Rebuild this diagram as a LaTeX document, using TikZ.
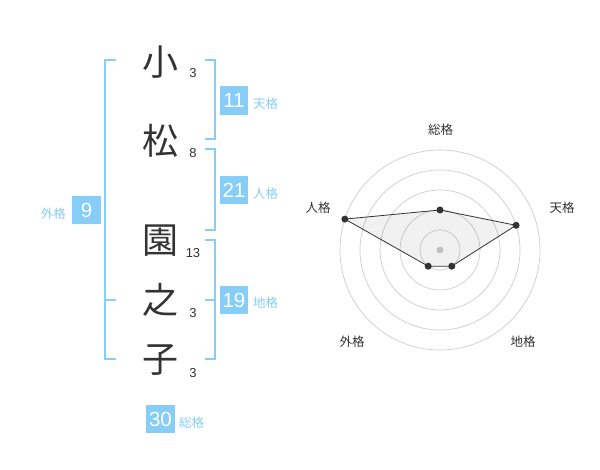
\documentclass[tikz,border=0pt]{standalone}
\usepackage{fontspec}
\setmainfont{Liberation Sans}
\newfontfamily\jp{Noto Sans CJK JP}
\definecolor{sky}{HTML}{86CDF8}
\definecolor{ink}{HTML}{333333}
\definecolor{ring}{HTML}{CCCCCC}
\begin{document}
\begin{tikzpicture}[x=1pt,y=-1pt,
  kanji/.style={font=\jp\fontsize{36}{36}\selectfont, text=ink, inner sep=0pt},
  stroke/.style={font=\fontsize{13}{13}\selectfont, text=ink, inner sep=0pt},
  numbox/.style={fill=sky, text=white, font=\fontsize{20.5}{20.5}\selectfont, minimum width=28.5pt, minimum height=28.5pt, inner sep=0pt},
  kaku/.style={font=\jp\fontsize{12.5}{12.5}\selectfont, text=sky, inner sep=0pt},
  bracket/.style={draw=sky, line width=2pt},
  radlab/.style={font=\jp\fontsize{12.5}{12.5}\selectfont, text=ink, inner sep=0pt},
  pt/.style={circle, fill=ink, inner sep=0pt, minimum size=7pt},
]
\useasboundingbox (0,0) rectangle (600,470);

% name characters
\node[kanji] (c1) at (160,62) {小};
\node[kanji] (c2) at (160,141) {松};
\node[kanji] (c3) at (160,241) {園};
\node[kanji] (c4) at (160,300) {之};
\node[kanji] (c5) at (160,360) {子};
\node[stroke] (s1) at (193,73) {3};
\node[stroke] (s2) at (193,153) {8};
\node[stroke] (s3) at (193,253) {13};
\node[stroke] (s4) at (193,313) {3};
\node[stroke] (s5) at (193,373) {3};

% brackets
\draw[bracket] (116,60) -- (105,60) -- (105,359.5) -- (116,359.5);
\draw[bracket] (105,300) -- (116,300);
\draw[bracket] (205,60) -- (214.5,60) -- (214.5,139.5) -- (205,139.5);
\draw[bracket] (205,149.5) -- (214.5,149.5) -- (214.5,230) -- (205,230);
\draw[bracket] (205,240) -- (214.5,240) -- (214.5,359.5) -- (205,359.5);
\draw[bracket] (205,300) -- (214.5,300);

% number boxes
\node[numbox] (ten) at (234,100.5) {11};
\node[kaku, anchor=west] (tenl) at (253,104) {天格};
\node[numbox] (jin) at (234,190) {21};
\node[kaku, anchor=west] (jinl) at (253,194) {人格};
\node[numbox] (chi) at (234,300) {19};
\node[kaku, anchor=west] (chil) at (253,303) {地格};
\node[numbox] (gai) at (86.5,210) {9};
\node[kaku, anchor=east] (gail) at (66,214) {外格};
\node[numbox] (sou) at (160.5,419) {30};
\node[kaku, anchor=west] (soul) at (179,423) {総格};

% radar chart
\coordinate (ctr) at (440,250);
\foreach \r in {20,40,60,80,100} \draw[ring, line width=0.7pt] (ctr) circle (\r);
\fill[ring] (ctr) circle (3.5);
\coordinate (pa) at (440,210);
\coordinate (pb) at (516.1,225.3);
\coordinate (pc) at (451.8,266.2);
\coordinate (pd) at (428.2,266.2);
\coordinate (pe) at (344.9,219.1);
\fill[ink, opacity=0.07] (pa) -- (pb) -- (pc) -- (pd) -- (pe) -- cycle;
\draw[ink, line width=0.8pt] (pa) -- (pb) -- (pc) -- (pd) -- (pe) -- cycle;
\foreach \p in {pa,pb,pc,pd,pe} \node[pt] at (\p) {};
\node[radlab] (ra) at (440.5,130) {総格};
\node[radlab] (rb) at (562,208) {天格};
\node[radlab] (rc) at (523,342) {地格};
\node[radlab] (rd) at (352,342) {外格};
\node[radlab] (re) at (318,208) {人格};
\end{tikzpicture}
\end{document}
